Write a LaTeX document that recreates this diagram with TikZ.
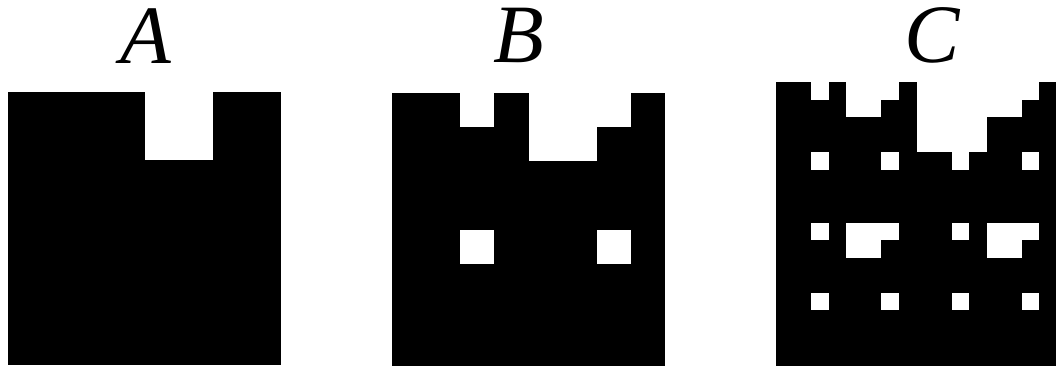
\documentclass[tikz,border=0pt]{standalone}
\usepackage{fontspec}
\setmainfont{Liberation Serif}
\usetikzlibrary{positioning}

\tikzset{
  plate/.style={fill=black},
  hole/.style={fill=white},
  tag/.style={font=\fontsize{83}{83}\selectfont\itshape, inner sep=0pt, anchor=base}
}

% holes of a square with side #1, levels 1..#2
\newcommand{\cutholes}[2]{%
  \foreach \k in {1,...,#2}{
    \pgfmathtruncatemacro{\nb}{2^(\k-1)}
    \pgfmathsetmacro{\bw}{#1/\nb}
    \foreach \i in {1,...,\nb}{
      \foreach \j in {1,...,\nb}{
        \fill[hole] ({(\i-1)*\bw+\bw/2},{(\j-1)*\bw}) rectangle ++(\bw/4,\bw/4);
      }
    }
  }
}

\begin{document}
\begin{tikzpicture}[x=1pt, y=-1pt]
    \useasboundingbox (0,0) rectangle (1056,366);

    % A
    \begin{scope}[shift={(8,92)}]
        \fill[plate] (0,0) rectangle (273,273);
        \cutholes{273}{1}
    \end{scope}
    \node[tag] (labA) at (146,64) {A};

    % B
    \begin{scope}[shift={(392,93)}]
        \fill[plate] (0,0) rectangle (273,273);
        \cutholes{273}{2}
    \end{scope}
    \node[tag] (labB) at (519,63) {B};

    % C
    \begin{scope}[shift={(776,82)}]
        \fill[plate] (0,0) rectangle (281,284);
        \cutholes{281}{3}
    \end{scope}
    \node[tag] (labC) at (932,63) {C};
\end{tikzpicture}
\end{document}
